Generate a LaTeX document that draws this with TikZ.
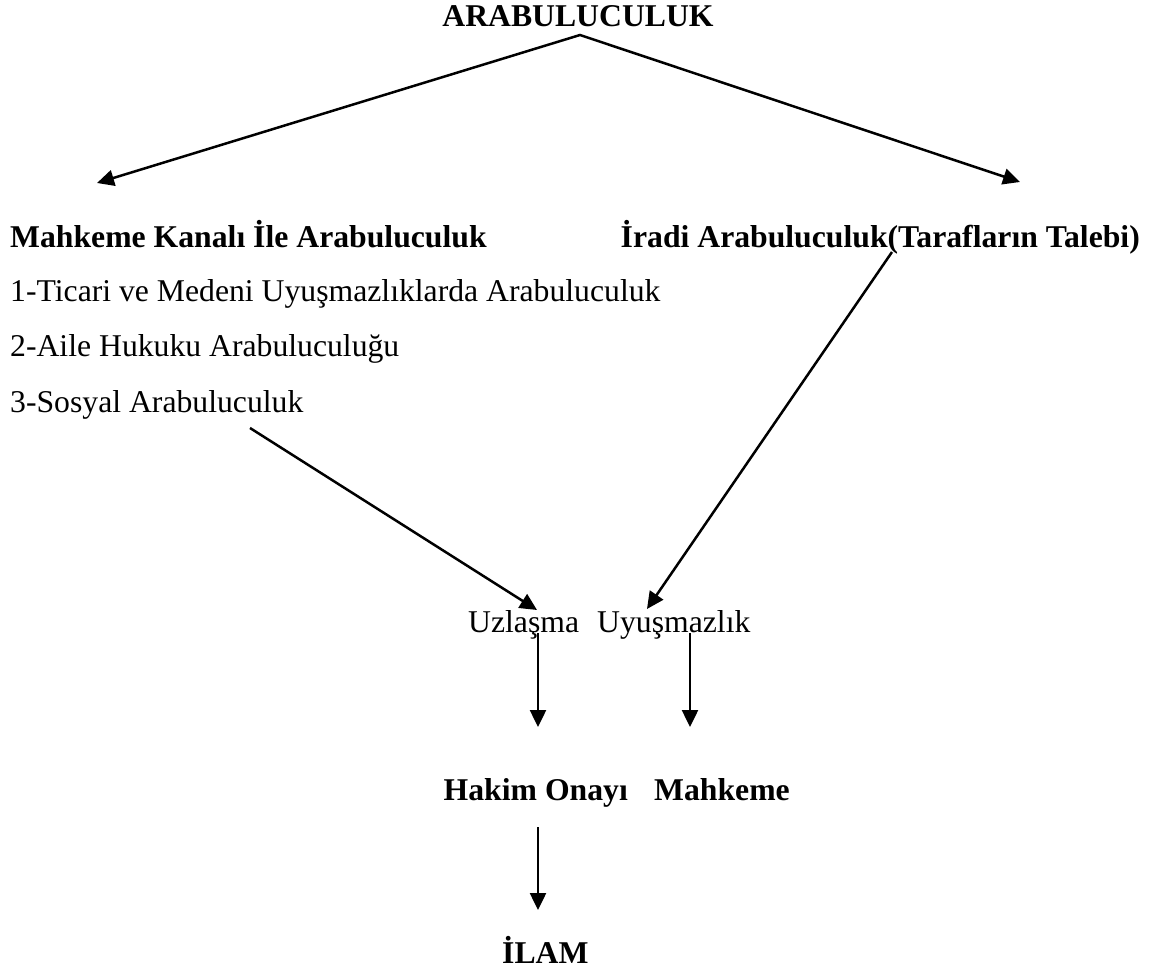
\documentclass[tikz,border=0pt]{standalone}
\usepackage{fontspec}
\setmainfont{Liberation Serif}
\usetikzlibrary{arrows.meta}
\begin{document}
\begin{tikzpicture}[x=1pt,y=-1pt,
  lbl/.style={inner sep=0pt, font=\fontsize{31.7}{38}\selectfont},
  bl/.style={inner sep=0pt, font=\fontsize{31.7}{38}\selectfont\bfseries},
  tip/.tip={Triangle[length=17pt,width=16pt]},
  arr/.style={line width=2.5pt, -tip},
  twoarr/.style={line width=2.5pt, tip-tip}]
\useasboundingbox (0,0) rectangle (1157,976);

% titles and labels
\node[bl, anchor=base] (top) at (578,27) {ARABULUCULUK};
\node[bl, anchor=base west] (mk) at (10,248) {Mahkeme Kanalı İle Arabuluculuk};
\node[bl, anchor=base east] (ir) at (1140,248) {İradi Arabuluculuk(Tarafların Talebi)};
\node[lbl, anchor=base west] (t1) at (10,302) {1-Ticari ve Medeni Uyuşmazlıklarda Arabuluculuk};
\node[lbl, anchor=base west] (t2) at (10,357) {2-Aile Hukuku Arabuluculuğu};
\node[lbl, anchor=base west] (t3) at (10,412) {3-Sosyal Arabuluculuk};
\node[lbl, anchor=base west] (uz) at (468,632) {Uzlaşma};
\node[lbl, anchor=base west] (uy) at (597,632) {Uyuşmazlık};
\node[bl, anchor=base east] (ho) at (628,800) {Hakim Onayı};
\node[bl, anchor=base west] (mh) at (654,800) {Mahkeme};
\node[bl, anchor=base west] (il) at (502,963) {İLAM};

% connector end points
\coordinate (apex) at (580,35);
\coordinate (lt) at (97,183);
\coordinate (rt) at (1020,182);
\coordinate (s3) at (250,428);
\coordinate (e3) at (537,610);
\coordinate (si) at (892,252);
\coordinate (ei) at (647,609);
\coordinate (v1s) at (538,633);
\coordinate (v1e) at (538,727);
\coordinate (v2s) at (690,633);
\coordinate (v2e) at (690,727);
\coordinate (v3s) at (538,827);
\coordinate (v3e) at (538,910);

% connectors
\draw[twoarr] (lt) -- (apex) -- (rt);
\draw[arr] (s3) -- (e3);
\draw[arr] (si) -- (ei);
\draw[arr] (v1s) -- (v1e);
\draw[arr] (v2s) -- (v2e);
\draw[arr] (v3s) -- (v3e);
\end{tikzpicture}
\end{document}
